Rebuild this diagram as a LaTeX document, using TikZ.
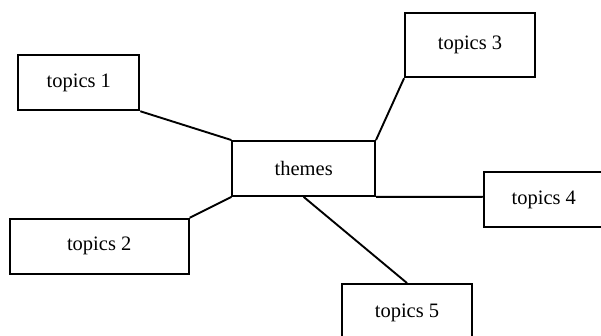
\documentclass[tikz,border=0pt]{standalone}
\usepackage{fontspec}
\setmainfont{Liberation Serif}
\begin{document}
\begin{tikzpicture}[x=1pt,y=-1pt,
  box/.style={draw=black,line width=1.9pt,inner sep=0pt,minimum height=55pt,font=\fontsize{20.5}{24}\selectfont},
  link/.style={draw=black,line width=1.9pt}]
\useasboundingbox (0,0) rectangle (601,336);
\clip (0,0) rectangle (601,336);
\node[box,minimum width=121pt] (t1) at (78.8,82.8) {topics 1};
\node[box,minimum width=179pt] (t2) at (99.2,246.2) {topics 2};
\node[box,minimum width=130pt,minimum height=64pt] (t3) at (470,45.3) {topics 3};
\node[box,minimum width=142.7pt] (th) at (303.7,168.5) {themes};
\node[box,minimum width=120pt] (t4) at (543.8,199.8) {topics 4};
\node[box,minimum width=130.6pt,minimum height=57pt] (t5) at (407,312.5) {topics 5};
\draw[link] (t1.south east) -- (th.north west);
\draw[link] (t2.north east) -- (th.south west);
\draw[link] (t3.south west) -- (th.north east);
\draw[link] (th.south east) -- ([yshift=3pt]t4.west);
\draw[link] (th.south) -- (t5.north);
\end{tikzpicture}
\end{document}
